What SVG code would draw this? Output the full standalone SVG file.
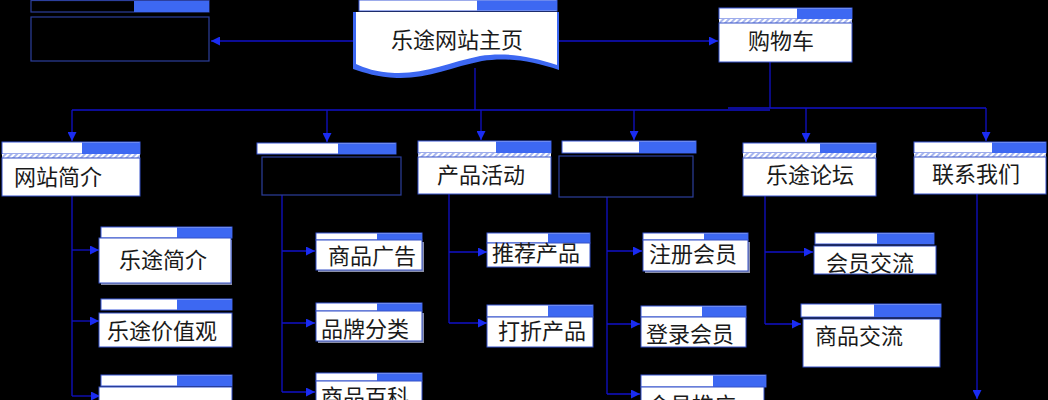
<svg xmlns="http://www.w3.org/2000/svg" width="1048" height="400" viewBox="0 0 1048 400">
<defs>
<pattern id="hatch" width="4" height="4" patternUnits="userSpaceOnUse" patternTransform="rotate(45)">
<rect width="4" height="4" fill="#ffffff"/>
<rect width="2" height="4" fill="#a8b6ee"/>
</pattern>
<marker id="arr" viewBox="0 0 10 10" refX="10" refY="5" markerWidth="10" markerHeight="9" markerUnits="userSpaceOnUse" orient="auto">
<path d="M0,0 L10,5 L0,10 Z" fill="#1a2cf2"/>
</marker>
<style>
.w{fill:#ffffff;stroke:#3a58d8;stroke-width:1}
.b{fill:#3d68f2}
.dk{fill:#000000;stroke:#2c3f9c;stroke-width:1.2}
.bd{fill:#ffffff;stroke:#3550c8;stroke-width:1}
.sh{fill:#8a8fa8}
.h{fill:url(#hatch)}
.t{font-family:"Noto Sans CJK SC","Noto Sans",sans-serif;font-size:22px;fill:#1a1a1a;text-anchor:middle}
.c{fill:none;stroke:#1010c8;stroke-width:1.3}
.ca{fill:none;stroke:#1010c8;stroke-width:1.3;marker-end:url(#arr)}
</style>
</defs>
<rect width="1048" height="400" fill="#000000"/>

<g id="connectors">
<path class="ca" d="M353,41 H211"/>
<path class="ca" d="M559,41 H718"/>
<path class="c" d="M475,68 V110"/>
<path class="c" d="M72,110 H770"/>
<path class="c" d="M770,62 V108"/>
<path class="c" d="M728,108 H986"/>
<path class="ca" d="M72,110 V141"/>
<path class="ca" d="M327,110 V142"/>
<path class="ca" d="M481,110 V140"/>
<path class="ca" d="M634,110 V140"/>
<path class="ca" d="M806,108 V142"/>
<path class="ca" d="M986,108 V141"/>
<path class="c" d="M72,196 V396"/>
<path class="ca" d="M72,250 H99"/>
<path class="ca" d="M72,321 H99"/>
<path class="ca" d="M72,396 H100"/>
<path class="c" d="M282,195 V392"/>
<path class="ca" d="M282,251 H315"/>
<path class="ca" d="M282,323 H315"/>
<path class="ca" d="M282,392 H315"/>
<path class="c" d="M449,194 V323"/>
<path class="ca" d="M449,252 H487"/>
<path class="ca" d="M449,323 H487"/>
<path class="c" d="M607,197 V394"/>
<path class="ca" d="M607,251 H642"/>
<path class="ca" d="M607,324 H640"/>
<path class="ca" d="M607,394 H640"/>
<path class="c" d="M765,196 V324"/>
<path class="ca" d="M765,252 H813"/>
<path class="ca" d="M765,324 H801"/>
<path class="ca" d="M977,194 V399"/>
</g>

<g id="node-home">
<rect class="w" x="359" y="0" width="198" height="11"/>
<rect class="b" x="477" y="0.5" width="80" height="10"/>
<path d="M353,12 H559 V70 C532,61 507,57 482,61 C452,67 427,79 397,78 C377,77 365,73 353,69 Z" fill="#3d68f2"/>
<path d="M356,12 H557 V65 C530,56 505,52 480,56 C450,62 425,74 395,73 C375,72 365,68 356,64 Z" fill="#ffffff"/>
<text class="t" x="457" y="48">乐途网站主页</text>
</g>

<g id="node-left-top">
<rect class="dk" x="31" y="0.5" width="178" height="11.5"/>
<rect class="b" x="134" y="1" width="75" height="11"/>
<rect class="dk" x="31" y="17" width="178" height="44"/>
</g>

<g id="node-cart">
<rect class="w" x="719" y="8" width="133" height="11"/>
<rect class="b" x="797" y="8.5" width="55" height="10.5"/>
<rect class="h" x="719" y="19" width="133" height="4"/>
<rect class="bd" x="719" y="23" width="133" height="39"/>
<text class="t" x="781" y="49">购物车</text>
</g>

<g id="node-intro">
<rect class="w" x="2" y="142" width="138" height="12"/>
<rect class="b" x="82" y="142.5" width="58" height="11.5"/>
<rect class="h" x="2" y="154" width="138" height="4"/>
<rect class="bd" x="2" y="158" width="138" height="38"/>
<text class="t" x="14" y="185" style="text-anchor:start">网站简介</text>
</g>

<g id="node-col2">
<rect class="w" x="257" y="143" width="139" height="11"/>
<rect class="b" x="338" y="143.5" width="58" height="10.5"/>
<rect class="dk" x="262" y="157" width="139" height="38"/>
</g>

<g id="node-activity">
<rect class="w" x="418" y="141" width="133" height="12"/>
<rect class="b" x="496" y="141.5" width="55" height="11.5"/>
<rect class="h" x="418" y="153" width="133" height="4"/>
<rect class="bd" x="418" y="157" width="133" height="37"/>
<text class="t" x="481" y="183">产品活动</text>
</g>

<g id="node-col4">
<rect class="w" x="562" y="141" width="134" height="12"/>
<rect class="b" x="639" y="141.5" width="57" height="11.5"/>
<rect class="dk" x="559" y="156" width="134" height="41"/>
</g>

<g id="node-forum">
<rect class="w" x="743" y="143" width="133" height="10"/>
<rect class="b" x="820" y="143.5" width="56" height="9.5"/>
<rect class="h" x="743" y="153" width="133" height="5"/>
<rect class="bd" x="743" y="158" width="133" height="38"/>
<text class="t" x="810" y="183">乐途论坛</text>
</g>

<g id="node-contact">
<rect class="w" x="914" y="142" width="132" height="11"/>
<rect class="b" x="992" y="142.5" width="54" height="10.5"/>
<rect class="h" x="914" y="153" width="132" height="4"/>
<rect class="bd" x="914" y="157" width="132" height="37"/>
<text class="t" x="976" y="182">联系我们</text>
</g>

<g id="node-letu-intro">
<rect class="w" x="101" y="227" width="131" height="11"/>
<rect class="b" x="177" y="227.5" width="55" height="10.5"/>
<rect class="sh" x="101" y="240" width="131" height="45"/>
<rect class="bd" x="99" y="238" width="132" height="45"/>
<text class="t" x="163" y="268">乐途简介</text>
</g>

<g id="node-values">
<rect class="w" x="101" y="299" width="131" height="11"/>
<rect class="b" x="177" y="299.5" width="55" height="10.5"/>
<rect class="bd" x="99" y="313" width="133" height="34"/>
<text class="t" x="162" y="339">乐途价值观</text>
</g>

<g id="node-col1-3">
<rect class="w" x="101" y="375" width="131" height="11"/>
<rect class="b" x="177" y="375.5" width="55" height="10.5"/>
<rect class="bd" x="99" y="387" width="133" height="30"/>
</g>

<g id="node-ads">
<rect class="w" x="316" y="233" width="106" height="7"/>
<rect class="b" x="377" y="233.5" width="45" height="6.5"/>
<rect class="sh" x="318" y="242" width="106" height="30"/>
<rect class="bd" x="316" y="240" width="106" height="30"/>
<text class="t" x="372" y="264">商品广告</text>
</g>

<g id="node-brand">
<rect class="w" x="316" y="303" width="106" height="8"/>
<rect class="b" x="377" y="303.5" width="45" height="7.5"/>
<rect class="sh" x="318" y="313" width="106" height="30"/>
<rect class="bd" x="316" y="311" width="106" height="30"/>
<text class="t" x="365" y="337">品牌分类</text>
</g>

<g id="node-wiki">
<rect class="w" x="316" y="373" width="106" height="8"/>
<rect class="b" x="377" y="373.5" width="45" height="7.5"/>
<rect class="bd" x="316" y="381" width="106" height="30"/>
<text class="t" x="365" y="405">商品百科</text>
</g>

<g id="node-recommend">
<rect class="w" x="487" y="233" width="103" height="10"/>
<rect class="b" x="548" y="233.5" width="42" height="9.5"/>
<rect class="bd" x="487" y="243" width="103" height="24"/>
<text class="t" x="536" y="261">推荐产品</text>
</g>

<g id="node-discount">
<rect class="w" x="487" y="305" width="106" height="12"/>
<rect class="b" x="548" y="305.5" width="45" height="11.5"/>
<rect class="bd" x="487" y="317" width="106" height="30"/>
<text class="t" x="542" y="339">打折产品</text>
</g>

<g id="node-register">
<rect class="w" x="643" y="233" width="105" height="7"/>
<rect class="b" x="704" y="233.5" width="44" height="6.5"/>
<rect class="sh" x="645" y="242" width="105" height="31"/>
<rect class="bd" x="643" y="240" width="105" height="31"/>
<text class="t" x="693" y="262">注册会员</text>
</g>

<g id="node-login">
<rect class="w" x="641" y="306" width="105" height="11"/>
<rect class="b" x="702" y="306.5" width="44" height="10.5"/>
<rect class="bd" x="641" y="317" width="105" height="30"/>
<text class="t" x="690" y="342">登录会员</text>
</g>

<g id="node-col4-3">
<rect class="w" x="641" y="375" width="125" height="12"/>
<rect class="b" x="713" y="375.5" width="53" height="11.5"/>
<rect class="bd" x="641" y="387" width="123" height="30"/>
<text class="t" x="692" y="413">会员推广</text>
</g>

<g id="node-member-talk">
<rect class="w" x="815" y="233" width="119" height="11"/>
<rect class="b" x="877" y="233.5" width="57" height="10.5"/>
<rect class="bd" x="814" y="246" width="122" height="28"/>
<text class="t" x="870" y="271">会员交流</text>
</g>

<g id="node-goods-talk">
<rect class="w" x="801" y="304" width="140" height="13"/>
<rect class="b" x="874" y="304.5" width="67" height="12.5"/>
<rect class="bd" x="803" y="319" width="137" height="48"/>
<text class="t" x="815" y="344" style="text-anchor:start">商品交流</text>
</g>
</svg>
